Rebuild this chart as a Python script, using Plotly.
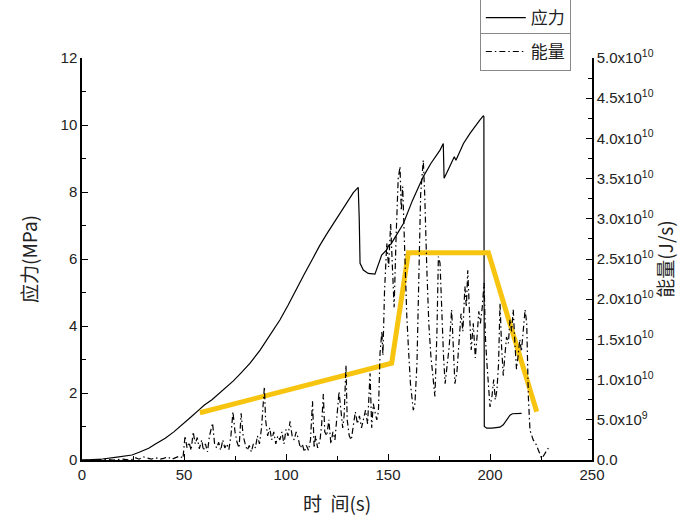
import plotly.graph_objects as go
import numpy as np

# ---- data ----
stress_t = [0, 5, 10, 16.3, 20, 24.5, 28, 32.7, 36, 40.8, 45, 49, 53, 57.2, 60, 63.7, 67.6, 71, 74.2,
            78, 82.4, 87.3, 92, 97, 101, 105, 109, 113, 116.5, 120, 123.5, 126.5, 129, 131, 133, 134.5, 135.4,
            135.9, 136.3, 137.9, 140.3, 143.6, 145.3, 146.9, 149.3, 150.5, 151.5, 153, 157.5, 162, 167.3, 171,
            175.5, 177.1, 177.5, 179, 181, 182.5, 183.3, 184.5, 187, 190.2, 193, 195.1, 196.7, 197.0,
            197.2, 198.4, 201, 204.9, 206.5, 208.2, 209.8, 211, 213, 215.5]
stress = [0, 0.01, 0.03, 0.08, 0.11, 0.15, 0.23, 0.35, 0.48, 0.65, 0.84, 1.04, 1.26, 1.49, 1.64, 1.8, 2.0,
          2.18, 2.36, 2.6, 2.89, 3.28, 3.7, 4.18, 4.62, 5.1, 5.55, 6.0, 6.4, 6.75, 7.08, 7.37, 7.62, 7.82,
          7.98, 8.08, 8.14, 7.2, 5.87, 5.67, 5.57, 5.55, 5.87, 6.12, 6.27, 6.42, 6.45, 6.6, 7.05, 7.75,
          8.46, 8.85, 9.25, 9.45, 8.41, 8.6, 8.85, 9.05, 8.95, 9.1, 9.45, 9.75, 10.0, 10.15, 10.27, 10.25,
          1.0, 0.95, 0.95, 0.98, 1.05, 1.19, 1.34, 1.38, 1.39, 1.39]

energy_t = [0, 5, 10, 15, 20, 24, 26, 28, 30, 32, 34, 36, 38, 40, 42, 44, 46, 48, 49.5,
            50.5, 51.5, 52.5, 53.5, 54.5, 55.5, 56.5, 57.5, 58.7, 59.5, 60.5, 61.5, 62.5, 64, 65, 66, 67,
            68, 69, 70, 71, 72, 73, 74, 75, 76, 77, 78, 79, 80, 81, 82, 83, 84, 85, 86, 87, 88, 89.4,
            90, 91, 92, 93, 94, 95, 96, 97, 98, 99, 100, 101, 102, 103, 104, 105, 106, 107, 108, 109,
            110, 111, 112, 113, 113.8, 114.5, 115.5, 116.7, 117.5, 118.3, 119, 120, 121, 122, 123, 124,
            125, 126, 127, 127.8, 128.5, 129.4, 130, 131, 132, 133, 134, 135, 136, 137, 138, 139, 140,
            141.2, 142, 142.8, 143.6, 144.5, 145.3, 146.1, 147, 147.5, 148.3, 149.4, 150.3, 151.3, 152,
            153, 154, 155, 155.9, 156.5, 157.2, 158, 159.2, 160, 161, 162.4, 163.2, 164.2, 165, 166,
            167.3, 168, 169, 170, 171, 172, 173, 174, 174.7, 175.5, 176.3, 177.2, 178, 179, 180, 181.2,
            182, 182.8, 183.8, 184.8, 185.8, 186.7, 187.7, 188.4, 189.1, 190, 190.8, 191.8, 192.8,
            193.7, 194.5, 195.3, 196.2, 197.1, 197.8, 198.5, 199.2, 200, 201, 201.8, 202.6, 203.4,
            204.2, 204.9, 205.7, 206.5, 207.3, 208.1, 209, 209.8, 210.6, 211.4, 212.2, 213, 213.8,
            214.6, 215.4, 216.2, 217.2, 218, 218.8, 219.6, 220.5, 221.2, 222.5, 223.8, 225.3, 226.2,
            227, 228.6]
# energy values in units of 1e10 J/s
energy_e10 = [0, 0.0, 0.01, 0.0, 0.01, 0.0, 0.03, 0.01, 0.04, 0.02, 0.01, 0.03, 0.01, 0.02, 0.04, 0.01,
              0.03, 0.05, 0.02,
              0.3, 0.15, 0.22, 0.12, 0.35, 0.2, 0.28, 0.14, 0.25, 0.12, 0.2, 0.1, 0.3, 0.46, 0.2, 0.15,
              0.22, 0.12, 0.25, 0.15, 0.2, 0.13, 0.3, 0.6, 0.35, 0.22, 0.15, 0.58, 0.3, 0.2, 0.12, 0.18,
              0.1, 0.2, 0.15, 0.3, 0.2, 0.4, 0.91,
              0.5, 0.3, 0.4, 0.25, 0.35, 0.2, 0.3, 0.25, 0.35, 0.2, 0.38, 0.3, 0.48, 0.3, 0.25, 0.35,
              0.27, 0.15, 0.2, 0.1, 0.18, 0.12, 0.25, 0.73, 0.15, 0.3, 0.15, 0.25, 0.45, 0.82, 0.35,
              0.3, 0.5, 0.2, 0.35, 0.25, 0.55, 0.85, 0.6, 0.4, 0.55, 1.18, 0.5, 0.3, 0.25, 0.45, 0.6,
              0.45, 0.55, 0.4, 0.5, 0.62, 0.45,
              1.08, 0.4, 0.7, 0.6, 0.5, 0.6, 1.33, 1.6, 1.3, 2.1, 2.7, 2.4, 2.94, 2.5,
              1.9, 2.8, 3.5, 3.65, 3.1, 3.4, 2.7, 1.8, 1.4, 0.95, 0.62, 0.7, 1.2, 2.3, 3.3,
              3.73, 3.3, 2.4, 1.7, 1.3, 1.0, 0.79, 1.6, 2.53, 2.45, 1.8, 1.3, 0.95, 1.2, 1.41, 1.87,
              1.3, 0.95, 1.1, 1.41, 1.82, 1.6, 2.16, 1.9, 2.36, 1.8, 1.37, 1.7, 1.27,
              1.55, 1.85, 1.7, 1.9, 2.2, 1.5, 1.2, 0.87, 0.66, 0.8, 1.0, 0.75, 0.87,
              1.2, 1.95, 1.4, 1.05, 1.3, 1.53, 1.45, 1.75, 1.6, 1.87, 1.45, 1.13, 1.3,
              1.5, 1.35, 1.6, 1.87, 1.7, 0.79, 0.37, 0.3, 0.25, 0.2, 0.12, 0.02, 0.05,
              0.08, 0.15]

trend_t = [57.8, 151.8, 160.0, 199.2, 222.9]
trend_stress = [1.41, 2.89, 6.19, 6.19, 1.44]

y2_ticks = [0, 5e9, 1e10, 1.5e10, 2e10, 2.5e10, 3e10, 3.5e10, 4e10, 4.5e10, 5e10]
y2_labels = ["0.0", "5.0x10<sup>9</sup>", "1.0x10<sup>10</sup>", "1.5x10<sup>10</sup>",
             "2.0x10<sup>10</sup>", "2.5x10<sup>10</sup>", "3.0x10<sup>10</sup>",
             "3.5x10<sup>10</sup>", "4.0x10<sup>10</sup>", "4.5x10<sup>10</sup>",
             "5.0x10<sup>10</sup>"]

energy = np.array(energy_e10) * 1e10

fig = go.Figure()
fig.add_trace(go.Scatter(x=stress_t, y=stress, mode="lines", name="应力",
                         line=dict(color="black", width=1.2), legend="legend"))
fig.add_trace(go.Scatter(x=energy_t, y=energy, mode="lines", name="能量", yaxis="y2",
                         line=dict(color="black", width=1.2, dash="6px,3px,1.5px,3px"),
                         legend="legend2"))
fig.add_trace(go.Scatter(x=trend_t, y=trend_stress, mode="lines", showlegend=False,
                         line=dict(color="#F7C510", width=5)))

tickfont = dict(family="Liberation Sans, Arial", size=15, color="#222")
CJK = "Noto Sans CJK SC"

fig.update_layout(
    width=678, height=516,
    margin=dict(l=82, r=86, t=58, b=56, autoexpand=False),
    plot_bgcolor="white", paper_bgcolor="white",
    xaxis=dict(range=[0, 250], dtick=50, tick0=0, showline=True, linecolor="black", linewidth=1.5,
               ticks="inside", ticklen=6, tickwidth=1.2, tickcolor="black", showgrid=False,
               zeroline=False, tickfont=tickfont, automargin=False,
               minor=dict(dtick=25, ticks="inside", ticklen=4, tickcolor="black"),
               title=dict(text="时  间(s)", font=dict(family=CJK, size=19, color="#222"), standoff=18)),
    yaxis=dict(range=[0, 12], dtick=2, tick0=0, showline=True, linecolor="black", linewidth=1.5,
               ticks="inside", ticklen=6, tickwidth=1.2, tickcolor="black", showgrid=False,
               zeroline=False, tickfont=tickfont, automargin=False,
               minor=dict(dtick=1, ticks="inside", ticklen=4, tickcolor="black"),
               title=dict(text="应力(MPa)", font=dict(family=CJK, size=19, color="#222"), standoff=18)),
    yaxis2=dict(range=[0, 5e10], overlaying="y", side="right", showline=True, linecolor="black",
                linewidth=1.5, ticks="inside", ticklen=6, tickwidth=1.2, tickcolor="black",
                showgrid=False, zeroline=False, tickfont=tickfont, automargin=False,
                tickvals=y2_ticks, ticktext=y2_labels,
                minor=dict(tickvals=[2.5e9 + 5e9 * i for i in range(10)], ticks="inside", ticklen=4,
                           tickcolor="black"),
                title=dict(text="能量(J/s)", font=dict(family=CJK, size=19, color="#222"), standoff=8)),
    legend=dict(x=0.78, y=1.0995, xanchor="left", yanchor="middle", bordercolor="#888", borderwidth=1,
                font=dict(family=CJK, size=17, color="#222"), bgcolor="white",
                tracegroupgap=0, itemwidth=40),
    legend2=dict(x=0.78, y=1.015, xanchor="left", yanchor="middle", bordercolor="#888", borderwidth=1,
                 font=dict(family=CJK, size=17, color="#222"), bgcolor="white",
                 tracegroupgap=0, itemwidth=40),
)

fig.write_html("out.html")
